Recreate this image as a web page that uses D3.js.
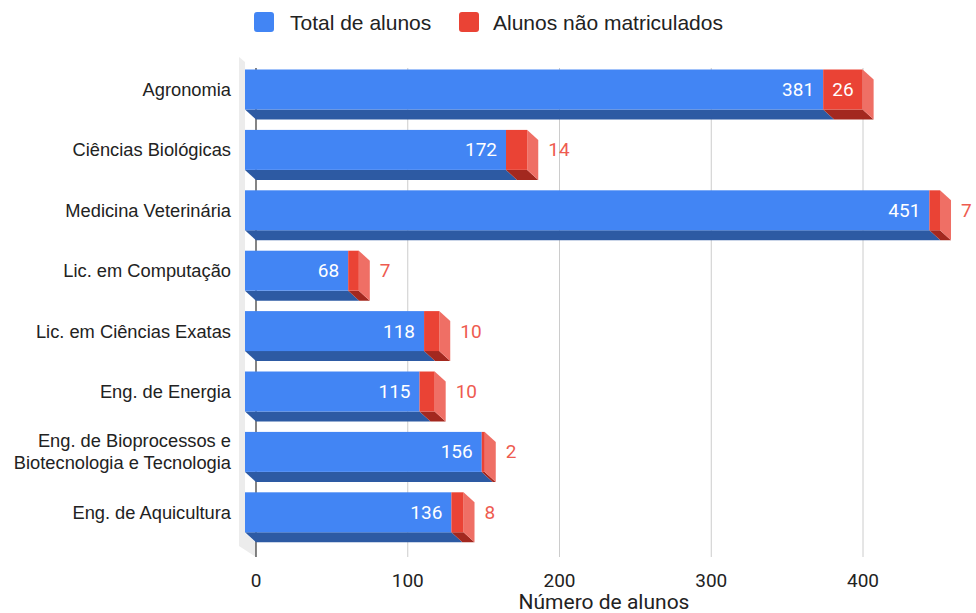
<!DOCTYPE html>
<html><head><meta charset="utf-8">
<script src="https://cdn.jsdelivr.net/npm/d3@7"></script>
<style>body{margin:0;background:#fff}svg{display:block}</style>
</head><body>
<svg id="chart" width="976" height="613"></svg>
<script>
const categories = ["Agronomia","Ciências Biológicas","Medicina Veterinária","Lic. em Computação","Lic. em Ciências Exatas","Eng. de Energia","Eng. de Bioprocessos e|Biotecnologia e Tecnologia","Eng. de Aquicultura"];
const totalAlunos = [381,172,451,68,118,115,156,136];
const naoMatriculados = [26,14,7,7,10,10,2,8];
const seriesNames = ["Total de alunos","Alunos não matriculados"];
const xTicks = [0,100,200,300,400];
const axisTitle = "Número de alunos";

const svg = d3.select("#chart");
const DX = 11, DY = 10;
const x = d3.scaleLinear().domain([0,400]).range([256,863]);
const y = d3.scaleBand().domain(categories).range([59.3,542.5]).paddingInner(0.338).paddingOuter(0.169);
const fx = v => x(v) - DX;
const gridTop = 68, gridBottom = 557;

const blue = "#4285f4", blueDark = "#2d5aa3";
const red = "#ea4335", redDark = "#a3281f", redSide = "#ef6f65", redLabel = "#ee5b50";

// left wall
svg.append("polygon")
  .attr("points", [[239,57],[245,62],[245,533],[256,543],[256,557],[239,546]].map(p=>p.join(",")).join(" "))
  .attr("fill","#ececec");

// gridlines
svg.append("g").selectAll("line").data(xTicks.filter(t=>t>0)).join("line")
  .attr("x1",d=>x(d)).attr("x2",d=>x(d)).attr("y1",gridTop).attr("y2",gridBottom)
  .attr("stroke","#cccccc").attr("stroke-width",1);
svg.append("line").attr("x1",x(0)).attr("x2",x(0)).attr("y1",gridTop).attr("y2",gridBottom)
  .attr("stroke","#333").attr("stroke-width",1.2);

// tick labels
svg.append("g").selectAll("text").data(xTicks).join("text")
  .attr("x",d=>x(d)).attr("y",580).attr("text-anchor","middle").attr("dominant-baseline","central")
  .attr("font-family","Roboto, Arial, sans-serif").attr("font-size",19).attr("fill","#222")
  .text(d=>d);
svg.append("text").attr("x",604).attr("y",609).attr("text-anchor","middle")
  .attr("font-family","Roboto, Arial, sans-serif").attr("font-size",21).attr("fill","#222").text(axisTitle);

const poly = pts => pts.map(p=>p.join(",")).join(" ");

const rows = categories.map((c,i)=>({c, a: totalAlunos[i], b: naoMatriculados[i]}));
const g = svg.append("g");
rows.forEach(r=>{
  const yt = y(r.c), yb = yt + y.bandwidth();
  const x0 = fx(0), x1 = fx(r.a), x2 = fx(r.a + r.b);
  g.append("polygon").attr("points", poly([[x0,yb],[x1,yb],[x1+DX,yb+DY],[x0+DX,yb+DY]])).attr("fill",blueDark);
  g.append("rect").attr("x",x0).attr("y",yt).attr("width",x1-x0).attr("height",yb-yt).attr("fill",blue);
  g.append("polygon").attr("points", poly([[x1,yb],[x2,yb],[x2+DX,yb+DY],[x1+DX,yb+DY]])).attr("fill",redDark);
  g.append("polygon").attr("points", poly([[x2,yt],[x2+DX,yt+DY],[x2+DX,yb+DY],[x2,yb]])).attr("fill",redSide);
  g.append("rect").attr("x",x1).attr("y",yt).attr("width",x2-x1).attr("height",yb-yt).attr("fill",red);
  const cy = (yt+yb)/2;
  g.append("text").attr("x",x1-9).attr("y",cy).attr("text-anchor","end").attr("dominant-baseline","central")
    .attr("font-family","Roboto, Arial, sans-serif").attr("font-size",19).attr("fill","#fff").text(r.a);
  const t = g.append("text").attr("y",cy).attr("dominant-baseline","central")
    .attr("font-family","Roboto, Arial, sans-serif").attr("font-size",19).text(r.b);
  const w = t.node().getComputedTextLength();
  if (w + 8 < x2 - x1) {
    t.attr("x",(x1+x2)/2).attr("text-anchor","middle").attr("fill","#fff");
  } else {
    t.attr("x",x2+DX+10).attr("text-anchor","start").attr("fill",redLabel);
  }
  const lines = r.c.split("|");
  const lab = svg.append("text").attr("text-anchor","end").attr("font-family","Arial, 'Liberation Sans', sans-serif")
    .attr("font-size",18.3).attr("fill","#222");
  lines.forEach((ln,k)=>{
    lab.append("tspan").attr("x",231).attr("y",cy + (k-(lines.length-1)/2)*22).attr("dominant-baseline","central").text(ln);
  });
});

// legend
const leg = svg.append("g");
[[254,290,blue],[459,493,red]].forEach((p,i)=>{
  leg.append("rect").attr("x",p[0]).attr("y",12).attr("width",20).attr("height",20).attr("rx",3).attr("fill",p[2]);
  leg.append("text").attr("x",p[1]).attr("y",22).attr("dominant-baseline","central")
    .attr("font-family","Arial, 'Liberation Sans', sans-serif").attr("font-size",21).attr("fill","#222").text(seriesNames[i]);
});
</script>
</body></html>
